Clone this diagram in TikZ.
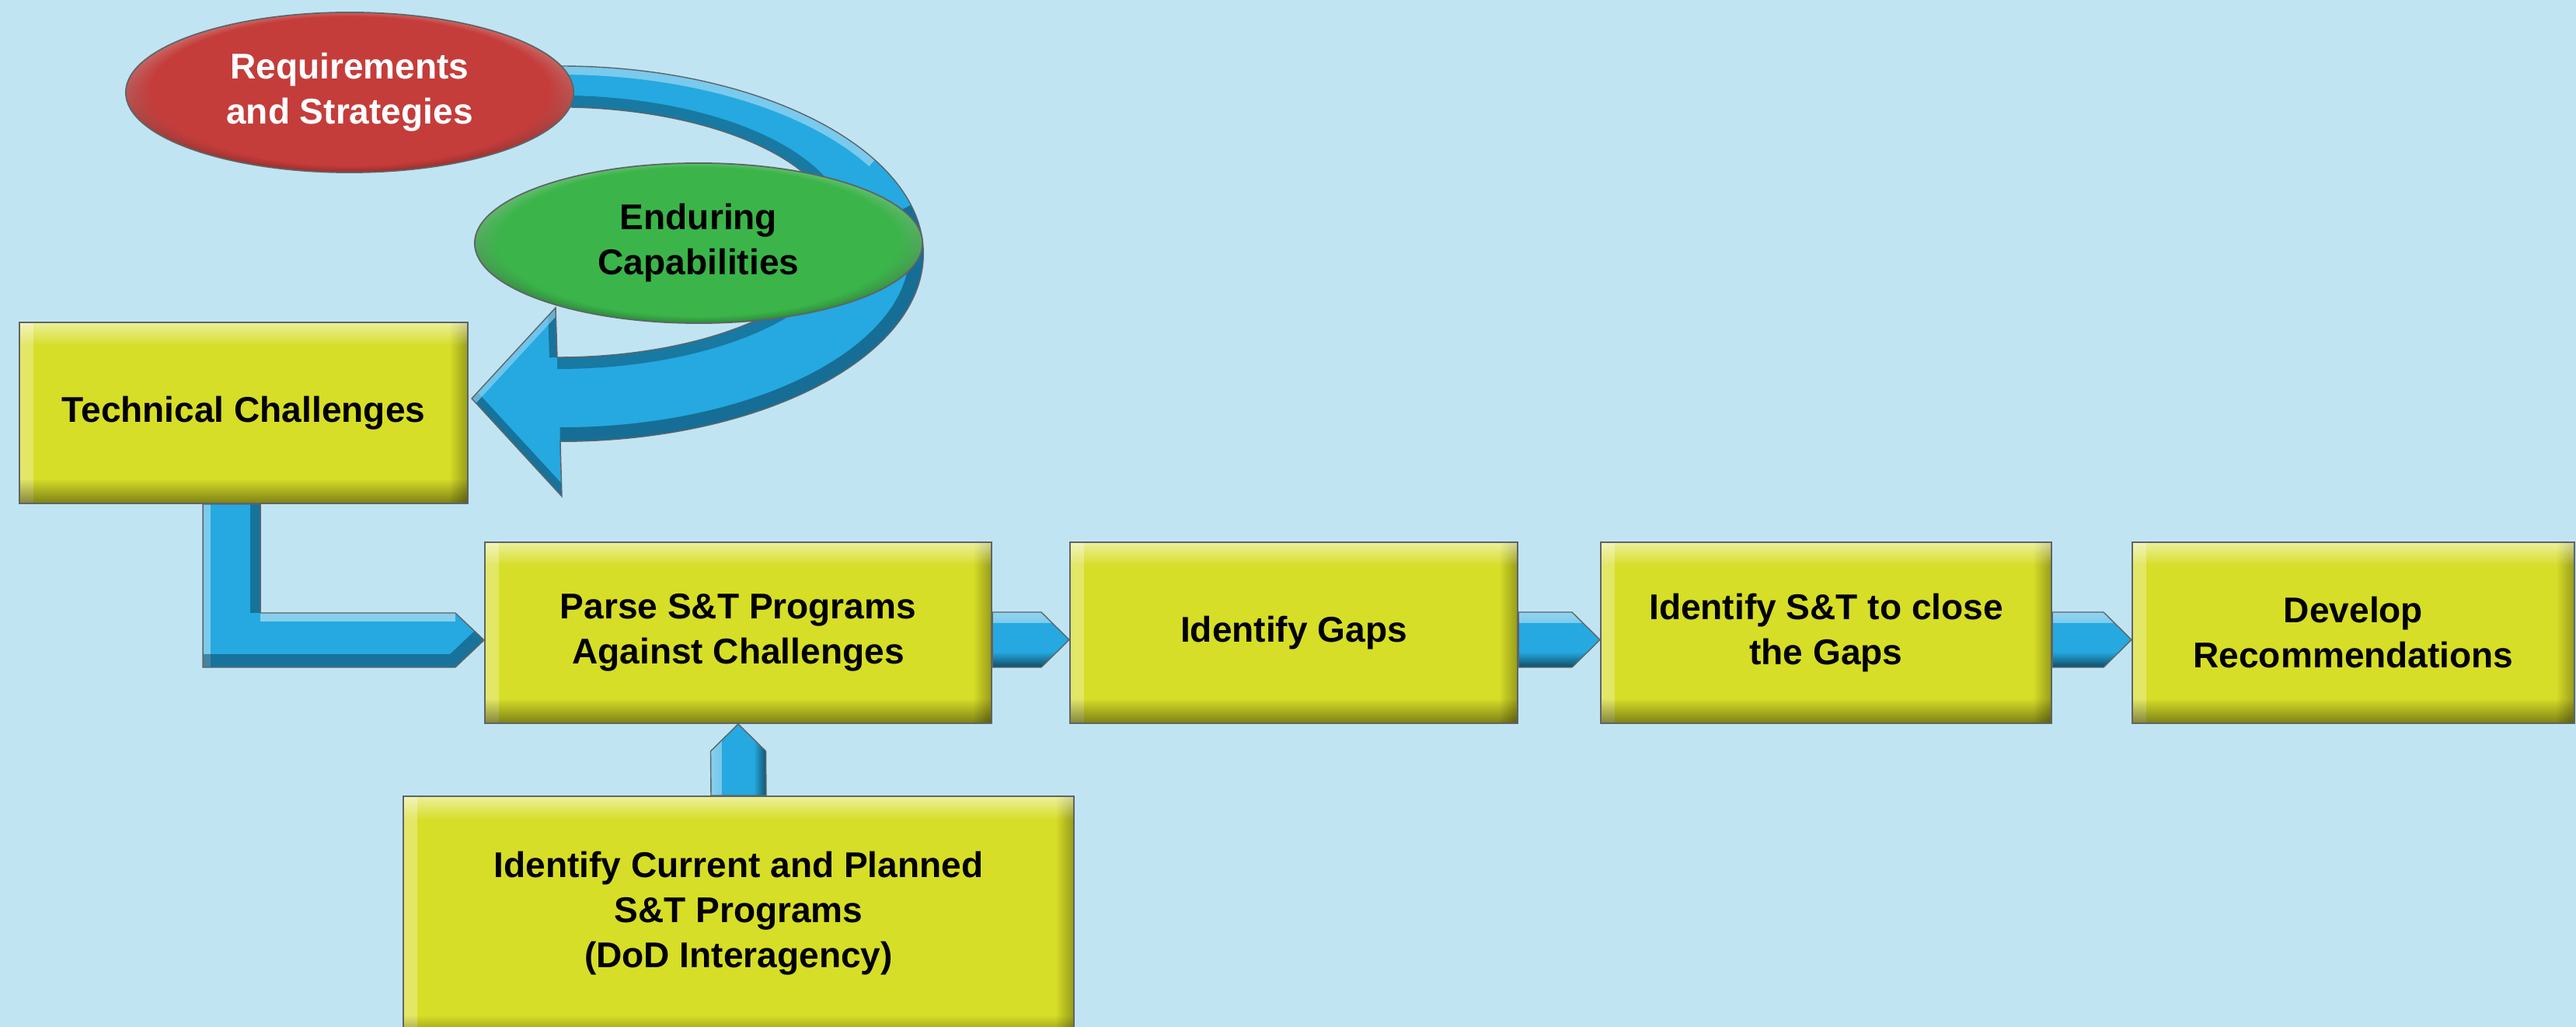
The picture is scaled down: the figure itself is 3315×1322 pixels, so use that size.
\documentclass[tikz,border=0pt]{standalone}
\usepackage{fontspec}
\setmainfont{Liberation Sans}
\usetikzlibrary{shapes.geometric,calc,fadings}
\definecolor{bg}{HTML}{C1E4F3}
\definecolor{boxy}{HTML}{D7DE27}
\definecolor{blu}{HTML}{25A9E0}
\definecolor{blul}{HTML}{9ED9F3}
\definecolor{blud}{HTML}{0A3F5A}
\definecolor{redb}{HTML}{C43D3B}
\definecolor{redl}{HTML}{E9A5A3}
\definecolor{redd}{HTML}{7A1E1D}
\definecolor{grnb}{HTML}{3BB54A}
\definecolor{grnl}{HTML}{9BD9A2}
\definecolor{grnd}{HTML}{1D6A2A}
\definecolor{edgec}{HTML}{5F6466}
\tikzfading[name=fadeN, top color=transparent!0, bottom color=transparent!100]
\tikzfading[name=fadeS, top color=transparent!100, bottom color=transparent!0]
\tikzfading[name=fadeE, left color=transparent!100, right color=transparent!0]
\tikzfading[name=fadeW, left color=transparent!0, right color=transparent!100]
\pgfdeclarelayer{bglayer}
\pgfdeclarelayer{backlayer}
\pgfsetlayers{bglayer,backlayer,main}
\tikzset{
  txt/.style={font=\fontsize{13.1}{16.5}\selectfont\bfseries, align=center, text=black},
  stepbox/.style={rectangle, draw=edgec, line width=0.5pt, fill=boxy, inner sep=0pt, txt,
    minimum height=2.33cm,
    path picture={
      \fill[white, opacity=0.3, path fading=fadeW] (path picture bounding box.north west) rectangle ([xshift=0.18cm]path picture bounding box.south west);
      \fill[black, opacity=0.3, path fading=fadeE] ([xshift=-0.24cm]path picture bounding box.north east) rectangle (path picture bounding box.south east);
      \fill[white, opacity=0.55, path fading=fadeN] (path picture bounding box.north west) rectangle ([yshift=-0.3cm]path picture bounding box.north east);
      \fill[black, opacity=0.42, path fading=fadeS] ([yshift=0.32cm]path picture bounding box.south west) rectangle (path picture bounding box.south east);
    }},
  ell/.style n args={3}{ellipse, draw=edgec, line width=0.5pt, inner sep=0pt,
    minimum width=5.76cm, minimum height=2.06cm, txt, fill=#1,
    path picture={
      \fill[top color=#2, bottom color=#3] (path picture bounding box.south west) rectangle (path picture bounding box.north east);
      \fill[#1, path fading=circle with fuzzy edge 15 percent] ([yshift=0.02cm]path picture bounding box.center) ellipse[x radius=3.0cm, y radius=1.12cm];
    }},
  barrow/.style={fill=blu, draw=edgec, line width=0.4pt,
    path picture={
      \fill[white, opacity=0.5, path fading=fadeN] (path picture bounding box.north west) rectangle ([yshift=-0.14cm]path picture bounding box.north east);
      \fill[black, opacity=0.55, path fading=fadeS] ([yshift=0.2cm]path picture bounding box.south west) rectangle (path picture bounding box.south east);
    }},
  varrow/.style={fill=blu, draw=edgec, line width=0.4pt,
    path picture={
      \fill[white, opacity=0.45, path fading=fadeW] (path picture bounding box.north west) rectangle ([xshift=0.14cm]path picture bounding box.south west);
      \fill[black, opacity=0.5, path fading=fadeE] ([xshift=-0.16cm]path picture bounding box.north east) rectangle (path picture bounding box.south east);
    }},
}
\newcommand\hconn[2]{\path[barrow] ([yshift=0.265cm]#1.east) -- ([xshift=-0.36cm,yshift=0.265cm]#2.west) -- ([yshift=-0.09cm]#2.west) -- ([xshift=-0.36cm,yshift=-0.445cm]#2.west) -- ([yshift=-0.445cm]#1.east) -- cycle;}
\newcommand\curvedpath{(650,-85) -- (721,-85) arc[start angle=90, end angle=-90, x radius=4.67cm, y radius=2.415cm] -- (723,-639) -- ([xshift=0.04cm,yshift=0.185cm]tc.east) -- (715,-396) -- (717,-460) arc[start angle=-90, end angle=90, x radius=3.6cm, y radius=1.61cm] -- (650,-138) -- cycle}
\newcommand\lpath{(l1) -- (l1 |- l3) -- ([xshift=-0.37cm]l3) -- ([yshift=-0.095cm]parse.west) -- ([xshift=-0.37cm]l4) -- (l2 |- l4) -- (l2) -- cycle}
\begin{document}
\begin{tikzpicture}[x=0.01cm,y=0.01cm]
\begin{pgfonlayer}{bglayer}
\fill[bg] (0,0) rectangle (3315,-1322);
\end{pgfonlayer}
\useasboundingbox (0,0) rectangle (3315,-1322);

% boxes
\node[stepbox, minimum width=5.77cm] (tc) at (313.5,-531.5) {Technical Challenges};
\node[stepbox, minimum width=6.52cm] (parse) at (950,-814.5) {Parse S\&T Programs\\Against Challenges};
\node[stepbox, minimum width=5.76cm] (gaps) at (1665,-814.5) {Identify Gaps};
\node[stepbox, minimum width=5.80cm] (close) at (2350,-814.5) {Identify S\&T to close\\the Gaps};
\node[stepbox, minimum width=5.69cm] (dev) at (3028.5,-814.5) {Develop\\Recommendations};
\node[stepbox, minimum width=8.63cm, minimum height=3.14cm] (cur) at (950.5,-1182) {Identify Current and Planned\\S\&T Programs\\(DoD Interagency)\rule[-0.22cm]{0pt}{1pt}};

% ellipses
\node[ell={redb}{redl}{redd}, text=white] (req) at (450,-119) {Requirements\\and Strategies};
\node[ell={grnb}{grnl}{grnd}] (endc) at (899,-313) {Enduring\\Capabilities};

\begin{pgfonlayer}{backlayer}
% curved arrow from requirements to technical challenges
\fill[blu] \curvedpath;
\begin{scope}
  \clip \curvedpath;
  \draw[blul, line width=0.22cm, opacity=0.7] (721,-85) arc[start angle=90, end angle=30, x radius=4.67cm, y radius=2.415cm];
  \draw[blud, line width=0.36cm, opacity=0.55] (1172,-264) arc[start angle=15, end angle=-90, x radius=4.67cm, y radius=2.415cm];
  \draw[blud, line width=0.3cm, opacity=0.45] (717,-460) arc[start angle=-90, end angle=90, x radius=3.6cm, y radius=1.61cm];
  \draw[blud, line width=0.22cm, opacity=0.5] (723,-639) -- ([xshift=0.04cm,yshift=0.185cm]tc.east);
  \draw[blud, line width=0.2cm, opacity=0.5] (715,-396) -- (717,-460);
  \draw[blul, line width=0.16cm, opacity=0.6] ([xshift=0.04cm,yshift=0.185cm]tc.east) -- (715,-396);
\end{scope}
\draw[edgec, line width=0.4pt] \curvedpath;

% L-shaped arrow from technical challenges to parse
\coordinate (l1) at ([xshift=2.37cm]tc.south west);
\coordinate (l2) at ([xshift=3.11cm]tc.south west);
\coordinate (l3) at ([yshift=-0.445cm]parse.west);
\coordinate (l4) at ([yshift=0.255cm]parse.west);
\fill[blu] \lpath;
\begin{scope}
  \clip \lpath;
  \draw[white, line width=0.2cm, opacity=0.4] (l1) -- (l1 |- l3);
  \draw[blud, line width=0.26cm, opacity=0.5] (l2) -- (l2 |- l4);
  \draw[white, line width=0.22cm, opacity=0.45] (l2 |- l4) -- ([xshift=-0.37cm]l4);
  \draw[blud, line width=0.34cm, opacity=0.5] (l1 |- l3) -- ([xshift=-0.37cm]l3) -- ([yshift=-0.095cm]parse.west);
\end{scope}
\draw[edgec, line width=0.4pt] \lpath;

% up arrow from current programs to parse
\path[varrow] ([xshift=-0.355cm]cur.north) -- ([xshift=-0.355cm,yshift=-0.35cm]parse.south) -- (parse.south) -- ([xshift=0.355cm,yshift=-0.35cm]parse.south) -- ([xshift=0.355cm]cur.north) -- cycle;

% horizontal chain
\hconn{parse}{gaps}
\hconn{gaps}{close}
\hconn{close}{dev}
\end{pgfonlayer}
\end{tikzpicture}
\end{document}
